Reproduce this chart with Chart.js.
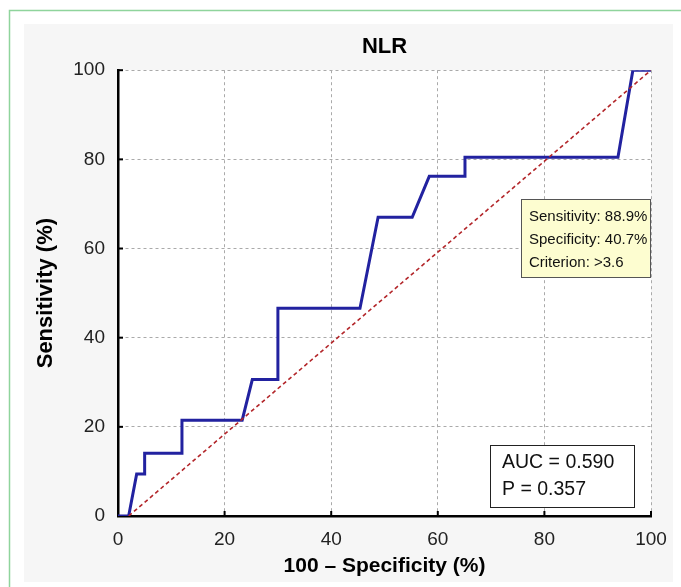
<!DOCTYPE html>
<html>
<head>
<meta charset="utf-8">
<script src="https://cdn.jsdelivr.net/npm/chart.js@4.4.1/dist/chart.umd.min.js"></script>
<style>
html,body{margin:0;padding:0;background:#fff;}
#c{display:block;}
</style>
</head>
<body>
<canvas id="c" width="681" height="587" style="width:681px;height:587px"></canvas>
<script>
// ROC curve points (100 - Specificity, Sensitivity)
const rocX = [0, 2.0, 3.5, 5.0, 5.0, 12.0, 12.0, 23.3, 25.2, 30.0, 30.0, 45.4, 48.8, 55.2, 58.4, 65.1, 65.1, 93.8, 96.6, 100];
const rocY = [0, 0, 9.4, 9.4, 14.1, 14.1, 21.5, 21.5, 30.6, 30.6, 46.6, 46.6, 67.0, 67.0, 76.2, 76.2, 80.5, 80.5, 100, 100];
// reference diagonal
const diagX = [2, 100];
const diagY = [0, 100];
const tickValues = [0, 20, 40, 60, 80, 100];
const statLines = ["Sensitivity: 88.9%", "Specificity: 40.7%", "Criterion: >3.6"];
const aucLines = ["AUC = 0.590", "P = 0.357"];
const chartTitle = "NLR";
const xTitle = "100 \u2013 Specificity (%)";
const yTitle = "Sensitivity (%)";

const mainFont = "'Liberation Sans', Arial, sans-serif";

const rocData = rocX.map((x, i) => ({x: x, y: rocY[i]}));
const diagData = diagX.map((x, i) => ({x: x, y: diagY[i]}));

const bgPlugin = {
  id: 'bg',
  beforeDraw(chart) {
    const ctx = chart.ctx, a = chart.chartArea;
    ctx.save();
    ctx.fillStyle = '#ffffff';
    ctx.fillRect(0, 0, chart.width, chart.height);
    ctx.fillStyle = '#f6f6f6';
    ctx.fillRect(24, 24, 649, 558);
    ctx.strokeStyle = '#8fd49c';
    ctx.lineWidth = 1.5;
    ctx.beginPath();
    ctx.moveTo(681, 10.5);
    ctx.lineTo(9.5, 10.5);
    ctx.lineTo(9.5, 587);
    ctx.stroke();
    ctx.fillStyle = '#ffffff';
    ctx.fillRect(a.left, a.top, a.right - a.left, a.bottom - a.top);
    ctx.restore();
  }
};

const overlayPlugin = {
  id: 'overlay',
  afterDraw(chart) {
    const ctx = chart.ctx;
    const xs = chart.scales.x, ys = chart.scales.y;
    ctx.save();
    // inner tick marks
    ctx.strokeStyle = '#000';
    ctx.lineWidth = 2;
    tickValues.forEach(v => {
      if (v === 0) return;
      const py = ys.getPixelForValue(v);
      ctx.beginPath(); ctx.moveTo(xs.left, py); ctx.lineTo(xs.left + 5, py); ctx.stroke();
      const px = xs.getPixelForValue(v);
      ctx.beginPath(); ctx.moveTo(px, ys.bottom); ctx.lineTo(px, ys.bottom - 5); ctx.stroke();
    });
    // statistics box (yellow)
    let x0 = xs.getPixelForValue(75.6), x1 = xs.getPixelForValue(99.8);
    let y0 = ys.getPixelForValue(71.1), y1 = ys.getPixelForValue(53.6);
    ctx.fillStyle = '#fdfdd0';
    ctx.fillRect(x0, y0, x1 - x0, y1 - y0);
    ctx.strokeStyle = '#555';
    ctx.lineWidth = 1;
    ctx.strokeRect(Math.round(x0) + 0.5, Math.round(y0) + 0.5, Math.round(x1 - x0), Math.round(y1 - y0));
    ctx.fillStyle = '#111';
    ctx.font = '15px ' + mainFont;
    ctx.textBaseline = 'alphabetic';
    ctx.textAlign = 'left';
    statLines.forEach((t, i) => ctx.fillText(t, x0 + 8, y0 + 22 + i * 23));
    // AUC box
    x0 = xs.getPixelForValue(69.8); x1 = xs.getPixelForValue(96.8);
    y0 = ys.getPixelForValue(15.9); y1 = ys.getPixelForValue(2.0);
    ctx.fillStyle = '#ffffff';
    ctx.fillRect(x0, y0, x1 - x0, y1 - y0);
    ctx.strokeStyle = '#222';
    ctx.strokeRect(Math.round(x0) + 0.5, Math.round(y0) + 0.5, Math.round(x1 - x0), Math.round(y1 - y0));
    ctx.fillStyle = '#111';
    ctx.font = '19.5px ' + mainFont;
    aucLines.forEach((t, i) => ctx.fillText(t, x0 + 12, y0 + 23 + i * 27));
    ctx.restore();
  }
};

new Chart(document.getElementById('c'), {
  type: 'scatter',
  data: {
    datasets: [
      {
        data: diagData,
        showLine: true,
        borderColor: '#b3262a',
        borderWidth: 1.6,
        borderDash: [4, 3],
        pointRadius: 0,
        fill: false,
        order: 0
      },
      {
        data: rocData,
        showLine: true,
        borderColor: '#2222a0',
        borderWidth: 3,
        pointRadius: 0,
        fill: false,
        tension: 0,
        order: 1
      }
    ]
  },
  options: {
    responsive: false,
    animation: false,
    events: [],
    layout: {padding: {left: 0, right: 30, top: 0, bottom: 0}},
    plugins: {
      legend: {display: false},
      tooltip: {enabled: false},
      title: {
        display: true,
        fullSize: false,
        text: chartTitle,
        color: '#000',
        font: {family: mainFont, size: 22, weight: 'bold', lineHeight: 1.2},
        padding: {top: 33.8, bottom: 10}
      }
    },
    scales: {
      x: {
        type: 'linear',
        min: 0, max: 100,
        afterFit(s) { s.height = 71; },
        afterBuildTicks(s) { s.ticks = tickValues.map(v => ({value: v})); },
        ticks: {
          color: '#222',
          font: {family: mainFont, size: 19},
          padding: 12,
          maxRotation: 0,
          autoSkip: false
        },
        grid: {color: '#aaaaaa', lineWidth: 1, drawTicks: false},
        border: {display: true, color: '#000', width: 2.5, dash: [3, 3]},
        title: {
          display: true,
          text: xTitle,
          color: '#000',
          font: {family: mainFont, size: 21, weight: 'bold', lineHeight: 1.2},
          padding: {top: 0, bottom: 8.4}
        }
      },
      y: {
        type: 'linear',
        min: 0, max: 100,
        afterFit(s) { s.width = 118; },
        afterBuildTicks(s) { s.ticks = tickValues.map(v => ({value: v})); },
        ticks: {
          color: '#222',
          font: {family: mainFont, size: 19},
          padding: 13,
          autoSkip: false
        },
        grid: {color: '#aaaaaa', lineWidth: 1, drawTicks: false},
        border: {display: true, color: '#000', width: 2.5, dash: [3, 3]},
        title: {
          display: true,
          text: yTitle,
          color: '#000',
          font: {family: mainFont, size: 22, weight: 'bold', lineHeight: 1.2},
          padding: {top: 33, bottom: 0}
        }
      }
    }
  },
  plugins: [bgPlugin, overlayPlugin]
});
</script>
</body>
</html>
